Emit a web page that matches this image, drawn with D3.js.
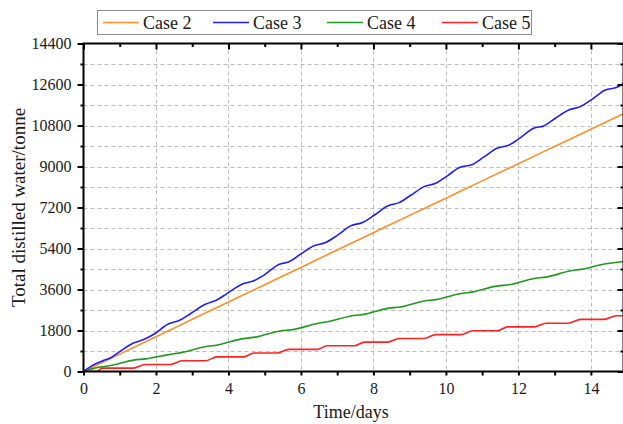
<!DOCTYPE html>
<html>
<head>
<meta charset="utf-8">
<script src="https://cdn.jsdelivr.net/npm/d3@7"></script>
<style>
    body { margin: 0; background: #fff; }
    svg { display: block; font-family: "Liberation Serif", "Times New Roman", serif; }
</style>
</head>
<body>
<svg id="chart" width="623" height="424"></svg>
<script>
// values (days, tonnes)
const case2Days = [0, 1, 2, 3, 4, 5, 6, 7, 8, 9, 10, 11, 12, 13, 14, 14.9];
const case2Values = [0, 762, 1524, 2290, 3050, 3810, 4570, 5335, 6095, 6855, 7610, 8370, 9125, 9880, 10635, 11320];

const case3Days = [0, 0.28, 0.55, 0.74, 1.01, 1.38, 1.66, 1.93, 2.35, 2.67, 2.95, 3.36, 3.68, 3.96,
    4.37, 4.70, 4.98, 5.39, 5.67, 5.99, 6.36, 6.68, 7.01, 7.37, 7.70, 8.02, 8.39, 8.71, 9.03,
    9.40, 9.72, 10.04, 10.39, 10.71, 11.04, 11.41, 11.73, 12.05, 12.42, 12.70, 13.02, 13.39,
    13.71, 14.03, 14.40, 14.72, 14.90];
const case3Values = [0, 295, 487, 590, 885, 1254, 1401, 1622, 2095, 2257, 2537, 2950, 3142, 3422,
    3835, 3983, 4232, 4699, 4816, 5152, 5517, 5663, 5984, 6393, 6539, 6860, 7269, 7415, 7736,
    8116, 8262, 8590, 8971, 9073, 9409, 9803, 9934, 10256, 10679, 10781, 11117, 11482,
    11628, 11949, 12358, 12475, 12650];

const case4Days = [0, 0.4, 0.72, 1.38, 1.72, 2.35, 2.72, 3.35, 3.70, 4.40, 4.75, 5.42, 5.78, 6.45,
    6.74, 7.45, 7.74, 8.39, 8.74, 9.40, 9.72, 10.41, 10.74, 11.43, 11.75, 12.44, 12.76, 13.45,
    13.73, 14.37, 14.74, 14.90];
const case4Values = [0, 180, 250, 500, 555, 740, 840, 1090, 1165, 1445, 1510, 1780, 1840, 2110,
    2185, 2460, 2507, 2773, 2832, 3097, 3157, 3422, 3496, 3761, 3806, 4086, 4145, 4425,
    4484, 4720, 4794, 4830];

const case5Days = [0, 0.38, 0.52, 1.38, 1.70, 2.39, 2.72, 3.36, 3.68, 4.42, 4.70, 5.34, 5.66, 6.45,
    6.72, 7.47, 7.75, 8.39, 8.71, 9.40, 9.72, 10.41, 10.74, 11.43, 11.70, 12.44, 12.76, 13.36,
    13.73, 14.37, 14.70, 14.90];
const case5Values = [0, 10, 150, 150, 305, 305, 470, 470, 640, 640, 810, 810, 970, 970,
    1130, 1130, 1290, 1290, 1450, 1450, 1620, 1620, 1790, 1790, 1960, 1960, 2120, 2120,
    2290, 2290, 2450, 2450];

const seriesNames = ["Case 2", "Case 3", "Case 4", "Case 5"];
const seriesColors = ["#ff8f2a", "#1f1ff5", "#1f9a1f", "#ff2222"];

const xMajorTicks = [0, 2, 4, 6, 8, 10, 12, 14];
const yMajorTicks = [0, 1800, 3600, 5400, 7200, 9000, 10800, 12600, 14400];

const svg = d3.select("#chart");

const plot = { left: 83.5, right: 623.5, top: 43.5, bottom: 371.5 };

const x = d3.scaleLinear().domain([0, 14.9]).range([plot.left, plot.right]);
const y = d3.scaleLinear().domain([0, 14400]).range([plot.bottom, plot.top]);

const xMinorTicks = d3.range(1, 15, 2);
const yMinorTicks = d3.range(900, 14400, 1800);

// dashed grid: vertical at major x ticks, horizontal at every 900
const grid = svg.append("g").attr("class", "grid")
    .attr("stroke", "#bdbdbd")
    .attr("stroke-width", 1)
    .attr("stroke-dasharray", "4,3");

grid.selectAll("line.v")
    .data(xMajorTicks.filter(d => d > 0))
    .join("line")
    .attr("class", "v")
    .attr("x1", d => Math.round(x(d)) + 0.5)
    .attr("x2", d => Math.round(x(d)) + 0.5)
    .attr("y1", plot.top)
    .attr("y2", plot.bottom);

grid.selectAll("line.h")
    .data(yMajorTicks.concat(yMinorTicks).filter(d => d > 0 && d < 14400))
    .join("line")
    .attr("class", "h")
    .attr("x1", plot.left)
    .attr("x2", plot.right)
    .attr("y1", d => Math.round(y(d)) + 0.5)
    .attr("y2", d => Math.round(y(d)) + 0.5);

// lines
svg.append("clipPath").attr("id", "plot-clip")
    .append("rect")
    .attr("x", plot.left)
    .attr("y", plot.top)
    .attr("width", plot.right - plot.left)
    .attr("height", plot.bottom - plot.top);

const series = [
    { days: case2Days, values: case2Values },
    { days: case3Days, values: case3Values },
    { days: case4Days, values: case4Values },
    { days: case5Days, values: case5Values }
];

const line = d3.line()
    .x(d => x(d[0]))
    .y(d => y(d[1]))
    .curve(d3.curveMonotoneX);

svg.append("g")
    .attr("clip-path", "url(#plot-clip)")
    .selectAll("path")
    .data(series)
    .join("path")
    .attr("fill", "none")
    .attr("stroke", (d, i) => seriesColors[i])
    .attr("stroke-width", 1.6)
    .attr("d", d => line(d.days.map((t, i) => [t, d.values[i]])));

// axes
function styleAxis(g) {
    g.select(".domain").remove();
    g.selectAll(".tick line").attr("stroke", "#000").attr("stroke-width", 2);
    g.selectAll(".tick text")
        .attr("fill", "#1a1a1a")
        .style("font-size", "16px")
        .style("font-family", "'Liberation Serif', serif");
}

// bottom
svg.append("g")
    .attr("transform", `translate(0,${plot.bottom})`)
    .call(d3.axisBottom(x).tickValues(xMajorTicks).tickSize(4).tickPadding(7).tickFormat(d3.format("d")))
    .call(styleAxis);
svg.append("g")
    .attr("transform", `translate(0,${plot.bottom})`)
    .call(d3.axisBottom(x).tickValues(xMinorTicks).tickSize(4).tickFormat(""))
    .call(styleAxis);

// top (ticks pointing in)
svg.append("g")
    .attr("transform", `translate(0,${plot.top})`)
    .call(d3.axisTop(x).tickValues(xMajorTicks).tickSize(-6).tickFormat(""))
    .call(styleAxis);
svg.append("g")
    .attr("transform", `translate(0,${plot.top})`)
    .call(d3.axisTop(x).tickValues(xMinorTicks).tickSize(-3.5).tickFormat(""))
    .call(styleAxis);

// left
svg.append("g")
    .attr("transform", `translate(${plot.left},0)`)
    .call(d3.axisLeft(y).tickValues(yMajorTicks).tickSize(6).tickPadding(6).tickFormat(d3.format("d")))
    .call(styleAxis);
svg.append("g")
    .attr("transform", `translate(${plot.left},0)`)
    .call(d3.axisLeft(y).tickValues(yMinorTicks).tickSize(3).tickFormat(""))
    .call(styleAxis);

// right (ticks pointing in)
svg.append("g")
    .attr("transform", `translate(${plot.right},0)`)
    .call(d3.axisRight(y).tickValues(yMajorTicks).tickSize(-6).tickFormat(""))
    .call(styleAxis);
svg.append("g")
    .attr("transform", `translate(${plot.right},0)`)
    .call(d3.axisRight(y).tickValues(yMinorTicks).tickSize(-3).tickFormat(""))
    .call(styleAxis);

// frame
svg.append("rect")
    .attr("x", plot.left)
    .attr("y", plot.top)
    .attr("width", plot.right - plot.left)
    .attr("height", plot.bottom - plot.top)
    .attr("fill", "none")
    .attr("stroke", "#000")
    .attr("stroke-width", 2);

// axis titles
svg.append("text")
    .attr("x", 351)
    .attr("y", 418)
    .attr("text-anchor", "middle")
    .attr("fill", "#1a1a1a")
    .style("font-size", "18px")
    .text("Time/days");

svg.append("text")
    .attr("transform", `translate(25,${(plot.top + plot.bottom) / 2}) rotate(-90)`)
    .attr("text-anchor", "middle")
    .attr("fill", "#1a1a1a")
    .style("font-size", "19px")
    .text("Total distilled water/tonne");

// legend
const legend = svg.append("g").attr("class", "legend");
legend.append("rect")
    .attr("x", 97.5)
    .attr("y", 10.5)
    .attr("width", 434)
    .attr("height", 24)
    .attr("fill", "#fff")
    .attr("stroke", "#8c8c8c")
    .attr("stroke-width", 1);

const legendX = [103, 213, 327, 442];
const items = legend.selectAll("g.item")
    .data(seriesNames)
    .join("g")
    .attr("class", "item")
    .attr("transform", (d, i) => `translate(${legendX[i]},22.5)`);

items.append("line")
    .attr("x1", 0)
    .attr("x2", 36)
    .attr("stroke", (d, i) => seriesColors[i])
    .attr("stroke-width", 1.6);

items.append("text")
    .attr("x", 40)
    .attr("y", 6.5)
    .attr("fill", "#1a1a1a")
    .style("font-size", "18px")
    .text(d => d);
</script>
</body>
</html>
